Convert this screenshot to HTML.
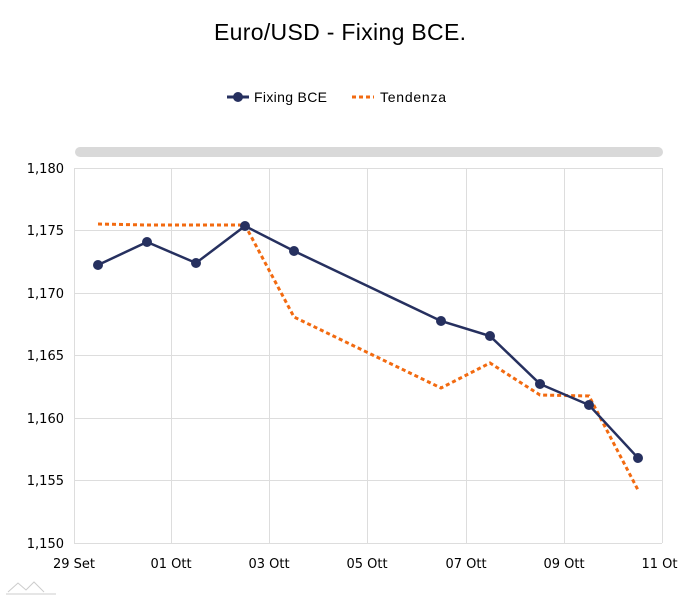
<!DOCTYPE html>
<html><head><meta charset="utf-8"><style>
html,body{margin:0;padding:0;background:#fff;}
svg text{font-family:"DejaVu Sans","Liberation Sans",sans-serif;fill:#000;}
</style></head><body>
<svg width="678" height="600" xmlns="http://www.w3.org/2000/svg">
<text x="340" y="40" text-anchor="middle" font-size="23" textLength="252" style="font-family:'Liberation Sans',sans-serif">Euro/USD - Fixing BCE.</text>
<line x1="227" y1="97" x2="249" y2="97" stroke="#26305f" stroke-width="3"/>
<circle cx="238" cy="97" r="5" fill="#26305f"/>
<text x="254" y="102" font-size="14" textLength="73" style="font-family:'Liberation Sans',sans-serif">Fixing BCE</text>
<line x1="352" y1="97" x2="374" y2="97" stroke="#f26a10" stroke-width="3" stroke-dasharray="4,3"/>
<text x="380" y="102" font-size="14" textLength="66" style="font-family:'Liberation Sans',sans-serif">Tendenza</text>
<rect x="75" y="147" width="588" height="10" rx="5" fill="#d9d9d9"/>
<g stroke="#dddddd" stroke-width="1">
<line x1="74" y1="168.5" x2="662" y2="168.5"/><line x1="74" y1="230.5" x2="662" y2="230.5"/>
<line x1="74" y1="293.5" x2="662" y2="293.5"/><line x1="74" y1="355.5" x2="662" y2="355.5"/>
<line x1="74" y1="418.5" x2="662" y2="418.5"/><line x1="74" y1="480.5" x2="662" y2="480.5"/>
<line x1="74" y1="543.5" x2="662" y2="543.5"/>
<line x1="74.5" y1="168" x2="74.5" y2="543"/><line x1="171.5" y1="168" x2="171.5" y2="543"/>
<line x1="269.5" y1="168" x2="269.5" y2="543"/><line x1="367.5" y1="168" x2="367.5" y2="543"/>
<line x1="466.5" y1="168" x2="466.5" y2="543"/><line x1="564.5" y1="168" x2="564.5" y2="543"/>
<line x1="662.5" y1="168" x2="662.5" y2="543"/>
</g>
<g font-size="13" text-anchor="end" style="font-family:'Liberation Sans',sans-serif">
<text x="64" y="173">1,180</text><text x="64" y="235">1,175</text><text x="64" y="298">1,170</text>
<text x="64" y="360">1,165</text><text x="64" y="423">1,160</text><text x="64" y="485">1,155</text><text x="64" y="548">1,150</text>
</g>
<g font-size="13" text-anchor="middle" style="font-family:'Liberation Sans',sans-serif">
<text x="74" y="568">29 Set</text><text x="171" y="568">01 Ott</text><text x="269" y="568">03 Ott</text>
<text x="367" y="568">05 Ott</text><text x="466" y="568">07 Ott</text><text x="564" y="568">09 Ott</text><text x="662" y="568">11 Ott</text>
</g>
<polyline fill="none" stroke="#f26a10" stroke-width="3" stroke-dasharray="4,3" points="98,224 147,225 196,225 245,225 294,317 441,388 490,363 540,395 589,396 638,490"/>
<polyline fill="none" stroke="#26305f" stroke-width="2.5" points="98,265 147,242 196,263 245,226 294,251 441,321 490,336 540,384 589,405 638,458"/>
<g fill="#26305f">
<circle cx="98" cy="265" r="5"/><circle cx="147" cy="242" r="5"/><circle cx="196" cy="263" r="5"/>
<circle cx="245" cy="226" r="5"/><circle cx="294" cy="251" r="5"/><circle cx="441" cy="321" r="5"/>
<circle cx="490" cy="336" r="5"/><circle cx="540" cy="384" r="5"/><circle cx="589" cy="405" r="5"/><circle cx="638" cy="458" r="5"/>
</g>
<path d="M8,592 L18,583 L26,590 L34,582 L44,592 M6,594 L56,594" fill="none" stroke="#ccc" stroke-width="1"/>
</svg>
</body></html>
